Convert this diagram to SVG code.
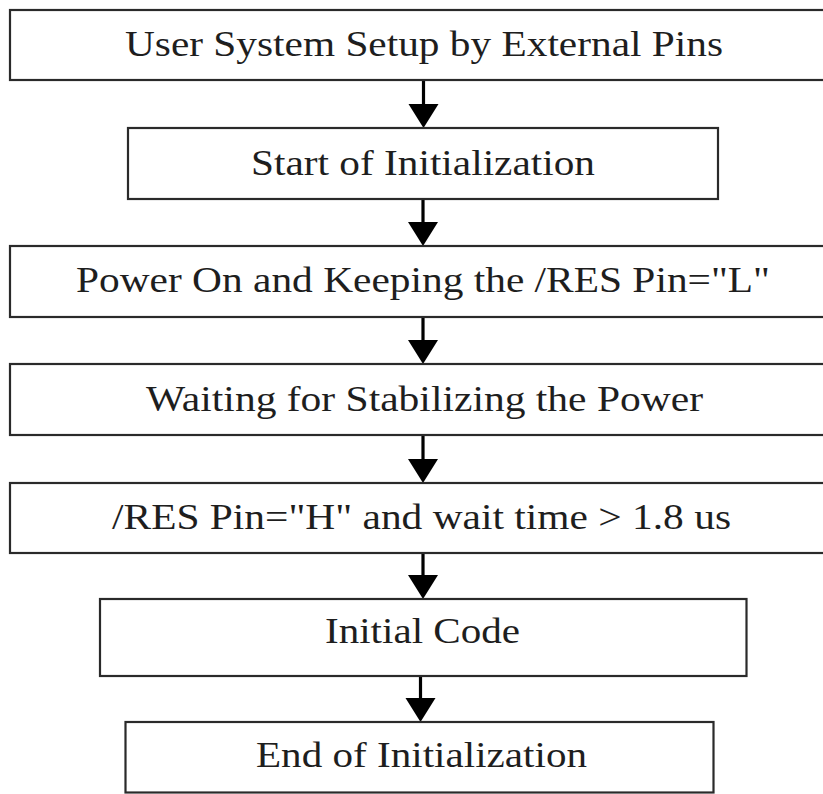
<svg xmlns="http://www.w3.org/2000/svg" width="823" height="794" viewBox="0 0 823 794">
  <style>
    .box { fill: #ffffff; stroke: #2a2a2a; stroke-width: 2.2; }
    .label { font-family: "Liberation Serif", "Times New Roman", serif; font-size: 36px; fill: #1e1e1e; }
    .flow { stroke: #000000; stroke-width: 3.2; fill: none; }
    .head { fill: #000000; stroke: none; }
  </style>
  <defs>
    <!-- arrowhead with its tip at the origin, pointing down -->
    <polygon id="tip" class="head" points="-15,-24 15,-24 0,0"/>
  </defs>
  <rect width="823" height="794" fill="#ffffff"/>

  <g id="connectors">
    <line class="flow" x1="423.5" y1="80" x2="423.5" y2="106"/>
    <use href="#tip" x="423.5" y="128"/>
    <line class="flow" x1="423" y1="199" x2="423" y2="223"/>
    <use href="#tip" x="423" y="246"/>
    <line class="flow" x1="423" y1="317" x2="423" y2="342"/>
    <use href="#tip" x="423" y="364"/>
    <line class="flow" x1="423" y1="435" x2="423" y2="460"/>
    <use href="#tip" x="423" y="483"/>
    <line class="flow" x1="423" y1="553" x2="423" y2="576"/>
    <use href="#tip" x="423" y="599"/>
    <line class="flow" x1="420.5" y1="676" x2="420.5" y2="698"/>
    <use href="#tip" x="420.5" y="722"/>
  </g>

  <g id="setup">
    <rect class="box" x="10" y="10" width="830" height="70"/>
    <text class="label" x="125" y="56" textLength="598" lengthAdjust="spacingAndGlyphs">User System Setup by External Pins</text>
  </g>

  <g id="init-start">
    <rect class="box" x="128" y="128" width="590" height="71"/>
    <text class="label" x="251" y="175" textLength="344" lengthAdjust="spacingAndGlyphs">Start of Initialization</text>
  </g>

  <g id="power-on">
    <rect class="box" x="10" y="246" width="830" height="71"/>
    <text class="label" x="76" y="292" textLength="694" lengthAdjust="spacingAndGlyphs">Power On and Keeping the /RES Pin="L"</text>
  </g>

  <g id="stabilize">
    <rect class="box" x="10" y="364" width="830" height="71"/>
    <text class="label" x="146" y="411" textLength="557" lengthAdjust="spacingAndGlyphs">Waiting for Stabilizing the Power</text>
  </g>

  <g id="reset-high">
    <rect class="box" x="10" y="483" width="830" height="70"/>
    <text class="label" x="112" y="529" textLength="619" lengthAdjust="spacingAndGlyphs">/RES Pin="H" and wait time &gt; 1.8 us</text>
  </g>

  <g id="initial-code">
    <rect class="box" x="100" y="599" width="646.5" height="77"/>
    <text class="label" x="325" y="643" textLength="195" lengthAdjust="spacingAndGlyphs">Initial Code</text>
  </g>

  <g id="init-end">
    <rect class="box" x="125.5" y="722" width="588" height="70.5"/>
    <text class="label" x="256" y="767" textLength="331" lengthAdjust="spacingAndGlyphs">End of Initialization</text>
  </g>
</svg>
